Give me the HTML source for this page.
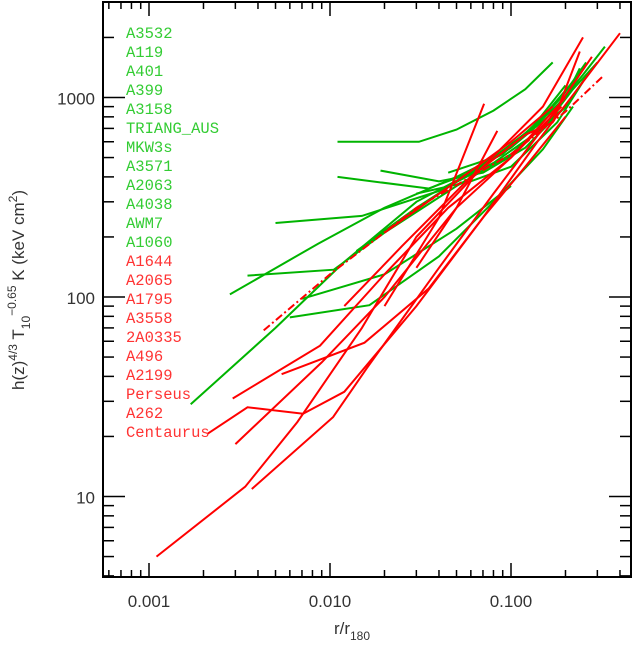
<!DOCTYPE html>
<html><head><meta charset="utf-8"><style>
body{margin:0;background:#fff;}
svg{display:block;font-family:"Liberation Serif",serif;}
</style></head><body>
<svg id="chart" width="634" height="647" viewBox="0 0 634 647" xmlns="http://www.w3.org/2000/svg">
<g id="marks"></g>
<g id="axes"></g>
<g id="legend"></g>
<text x="352" y="634" font-size="17" text-anchor="middle" font-family="Liberation Sans, sans-serif" fill="#333">r/r<tspan font-size="12" dy="6">180</tspan></text>
<text transform="translate(24,290) rotate(-90)" font-size="17" text-anchor="middle" font-family="Liberation Sans, sans-serif" fill="#333">h(z)<tspan font-size="12" dy="-7">4/3</tspan><tspan dy="7"> T</tspan><tspan font-size="12" dy="6">10</tspan><tspan font-size="12" dy="-14">−0.65</tspan><tspan dy="8"> K (keV cm</tspan><tspan font-size="12" dy="-7">2</tspan><tspan dy="7">)</tspan></text>
</svg>
<script>
const NS="http://www.w3.org/2000/svg";
const xTicks=[0.001,0.01,0.1];
const xTickLabels=["0.001","0.010","0.100"];
const yTicks=[10,100,1000];
const yTickLabels=["10","100","1000"];
const greenNames=["A3532","A119","A401","A399","A3158","TRIANG_AUS","MKW3s","A3571","A2063","A4038","AWM7","A1060"];
const redNames=["A1644","A2065","A1795","A3558","2A0335","A496","A2199","Perseus","A262","Centaurus"];
const g1=[[0.011,600],[0.031,600],[0.05,690],[0.08,860],[0.12,1100],[0.17,1500]];
const g2=[[0.011,400],[0.035,350],[0.06,420],[0.1,560],[0.16,800],[0.25,1300],[0.33,1800]];
const g3=[[0.019,430],[0.04,380],[0.07,420],[0.12,560],[0.2,900],[0.28,1400]];
const g4=[[0.005,235],[0.015,255],[0.04,340],[0.08,470],[0.15,700],[0.22,1100],[0.3,1500]];
const g5=[[0.0028,103],[0.0086,185],[0.02,280],[0.05,400],[0.09,520],[0.15,800],[0.22,1200]];
const g6=[[0.0035,128],[0.0105,137],[0.02,210],[0.05,360],[0.1,520],[0.2,900]];
const g7=[[0.0017,29],[0.005,70],[0.012,150],[0.03,300],[0.07,450],[0.13,700],[0.2,1150]];
const g8=[[0.006,79],[0.0165,91],[0.04,160],[0.08,300],[0.15,550],[0.22,900]];
const g9=[[0.007,98],[0.02,130],[0.05,220],[0.1,360]];
const g10=[[0.014,170],[0.03,280],[0.06,420],[0.12,650],[0.2,1000],[0.24,1400]];
const g11=[[0.03,330],[0.06,380],[0.1,450],[0.18,750],[0.25,1200]];
const g12=[[0.045,420],[0.08,500],[0.13,700],[0.19,1000],[0.26,1500]];
const r1=[[0.0011,5],[0.0034,11.2],[0.0066,23.6],[0.015,70],[0.03,200],[0.07,450],[0.15,900],[0.25,2000]];
const r2=[[0.0037,10.9],[0.0104,25],[0.016,44],[0.04,140],[0.08,330],[0.15,700],[0.28,1600]];
const r3=[[0.0021,20.6],[0.0035,28],[0.0071,26],[0.012,33.5],[0.03,90],[0.07,250],[0.14,600],[0.4,2100]];
const r4=[[0.003,18.3],[0.009,47],[0.02,100],[0.05,280],[0.1,500],[0.2,1000]];
const r5=[[0.0029,31],[0.0088,57],[0.02,130],[0.045,280],[0.1,500],[0.19,900]];
const r6=[[0.0054,41],[0.0155,59],[0.035,110],[0.07,250],[0.12,450],[0.2,800]];
const r7=[[0.02,90],[0.04,250],[0.071,930]];
const r8=[[0.03,140],[0.05,280],[0.084,680]];
const r9=[[0.012,90],[0.025,180],[0.06,400],[0.12,650],[0.17,750],[0.24,1700]];
const r10=[[0.02,210],[0.05,380],[0.1,600],[0.17,900]];
const fitLine=[[0.0043,68],[0.01,130],[0.03,280],[0.1,520],[0.2,850],[0.32,1270]];
const greenSeries=[g1,g2,g3,g4,g5,g6,g7,g8,g9,g10,g11,g12];
const redSeries=[r1,r2,r3,r4,r5,r6,r7,r8,r9,r10];

const L=103,R=631,T=2,B=577;
const xDec=181, yDec=199.5;
function X(v){return 330+(Math.log10(v)+2)*xDec;}
function Y(v){return 297-(Math.log10(v)-2)*yDec;}
const GREEN="#00b400",RED="#ff0000";
const marks=document.getElementById('marks');
function poly(data,color,name,dash){
  const p=document.createElementNS(NS,'polyline');
  p.setAttribute('points',data.map(d=>X(d[0]).toFixed(1)+','+Y(d[1]).toFixed(1)).join(' '));
  p.setAttribute('fill','none');p.setAttribute('stroke',color);p.setAttribute('stroke-width','2');
  if(dash)p.setAttribute('stroke-dasharray',dash);
  
  
  marks.appendChild(p);
}
greenSeries.forEach((s,i)=>poly(s,GREEN,'green-profile-'+(i+1)));
redSeries.forEach((s,i)=>poly(s,RED,'red-profile-'+(i+1)));
poly(fitLine,RED,'fit-dash-dot-line','8,3,2,3');

const axes=document.getElementById('axes');
function line(x1,y1,x2,y2,w){const l=document.createElementNS(NS,'line');
  l.setAttribute('x1',x1);l.setAttribute('y1',y1);l.setAttribute('x2',x2);l.setAttribute('y2',y2);
  l.setAttribute('stroke','#000');l.setAttribute('stroke-width',w||1.5);
  
  
  axes.appendChild(l);}
const frame=document.createElementNS(NS,'rect');
frame.setAttribute('x',L);frame.setAttribute('y',T);frame.setAttribute('width',R-L);frame.setAttribute('height',B-T);
frame.setAttribute('fill','none');frame.setAttribute('stroke','#000');frame.setAttribute('stroke-width','2');


axes.appendChild(frame);
for(let e=-4;e<=0;e++)for(let m=1;m<10;m++){const v=m*Math.pow(10,e);const x=X(v);
  if(x<L+1||x>R-1)continue;const len=m===1?14:7;line(x,B,x,B-len);line(x,T,x,T+len);}
for(let e=0;e<=4;e++)for(let m=1;m<10;m++){const v=m*Math.pow(10,e);const y=Y(v);
  if(y<T+1||y>B-1)continue;const len=m===1?22:11;line(L,y,L+len,y);line(R,y,R-len,y);}
function txt(parent,x,y,s,size,anchor,color,name,fam){const t=document.createElementNS(NS,'text');
  t.setAttribute('x',x);t.setAttribute('y',y);t.setAttribute('font-size',size);t.setAttribute('text-anchor',anchor);
  t.setAttribute('fill',color);if(fam)t.setAttribute('font-family',fam);t.textContent=s;
  
  
  parent.appendChild(t);}
xTicks.forEach((v,i)=>txt(axes,X(v),607,xTickLabels[i],17,'middle','#333','x-tick-label','Liberation Sans, sans-serif'));
yTicks.forEach((v,i)=>txt(axes,95,Y(v)+7,yTickLabels[i],17,'end','#333','y-tick-label','Liberation Sans, sans-serif'));
const leg=document.getElementById('legend');
const MONO='Liberation Mono, monospace';
greenNames.forEach((n,i)=>txt(leg,126,38+i*19,n,15.5,'start','#33cc33','legend-entry',MONO));
redNames.forEach((n,i)=>txt(leg,126,38+(i+12)*19,n,15.5,'start','#ff3333','legend-entry',MONO));
</script>
</body></html>
